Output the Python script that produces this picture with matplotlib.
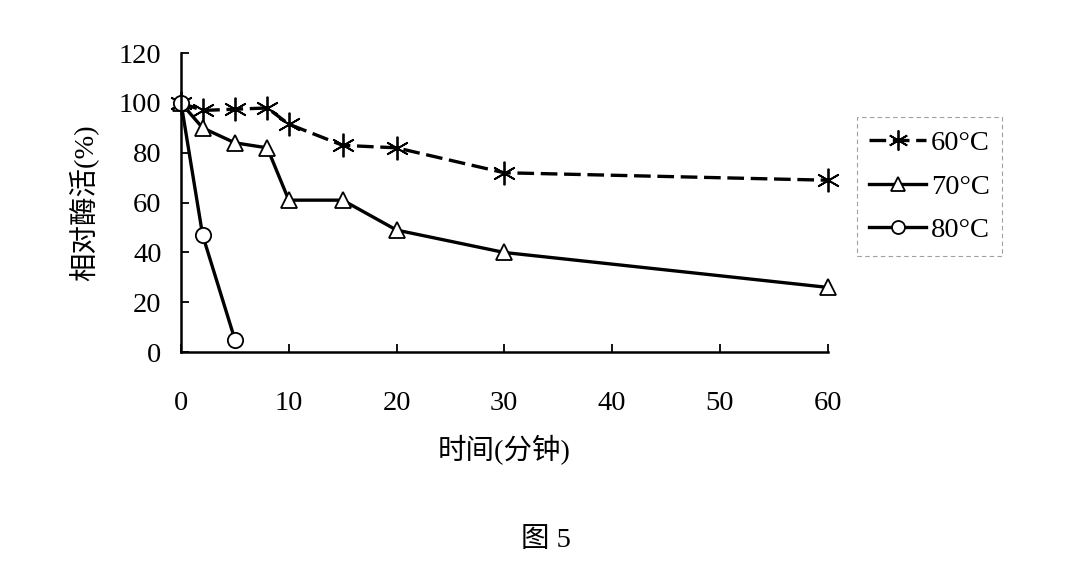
import matplotlib.pyplot as plt

plt.rcParams['font.family'] = ['Liberation Serif', 'Noto Sans CJK SC']

# data
t60 = [0, 2, 5, 8, 10, 15, 20, 30, 60]
v60 = [100, 97, 97.5, 98, 91.5, 83, 82, 72, 69]
t70 = [0, 2, 5, 8, 10, 15, 20, 30, 60]
v70 = [100, 90, 84, 82, 61, 61, 49, 40, 26]
t80 = [0, 2, 5]
v80 = [100, 47, 5]
labels = ['60°C', '70°C', '80°C']

fig = plt.figure(figsize=(10.92, 5.84), dpi=100)
ax = fig.add_axes([0.1658, 0.397, 0.592, 0.512])

ax.plot(t60, v60, color='black', lw=2.4, ls=(0, (5, 2)), marker=(6, 2, 0),
        ms=17, mew=1.3, label=labels[0], clip_on=False)
ax.plot(t70, v70, color='black', lw=2.4, marker='^', ms=12, mfc='white',
        mec='black', mew=1.3, label=labels[1], clip_on=False)
ax.plot(t80, v80, color='black', lw=2.4, marker='o', ms=11, mfc='white',
        mec='black', mew=1.3, label=labels[2], clip_on=False)

ax.set_xlim(0, 60)
ax.set_ylim(0, 120)
ax.set_xticks([0, 10, 20, 30, 40, 50, 60])
ax.set_yticks([0, 20, 40, 60, 80, 100, 120])
ax.tick_params(direction='in', length=6, width=1.3, labelsize=20.5)
ax.tick_params(axis='x', pad=28)
ax.tick_params(axis='y', pad=14)
for s in ['top', 'right']:
    ax.spines[s].set_visible(False)
for s in ['left', 'bottom']:
    ax.spines[s].set_linewidth(1.8)

ax.set_xlabel('时间(分钟)', fontsize=20.5, labelpad=14)
ax.set_ylabel('相对酶活(%)', fontsize=20.5, labelpad=14)

leg = ax.legend(loc='upper left', bbox_to_anchor=(1.045, 0.785), fontsize=20.5,
                frameon=True, fancybox=False, handlelength=2.0,
                handletextpad=0.15, borderpad=0.45, labelspacing=0.62,
                borderaxespad=0, markerscale=0.85)
leg.get_frame().set_edgecolor('#888888')
leg.get_frame().set_linestyle((0, (4, 3)))
leg.get_frame().set_linewidth(0.8)

fig.text(0.5, 0.075, '图 5', fontsize=20.5, ha='center', va='center')

fig.savefig('out.png', dpi=100)
